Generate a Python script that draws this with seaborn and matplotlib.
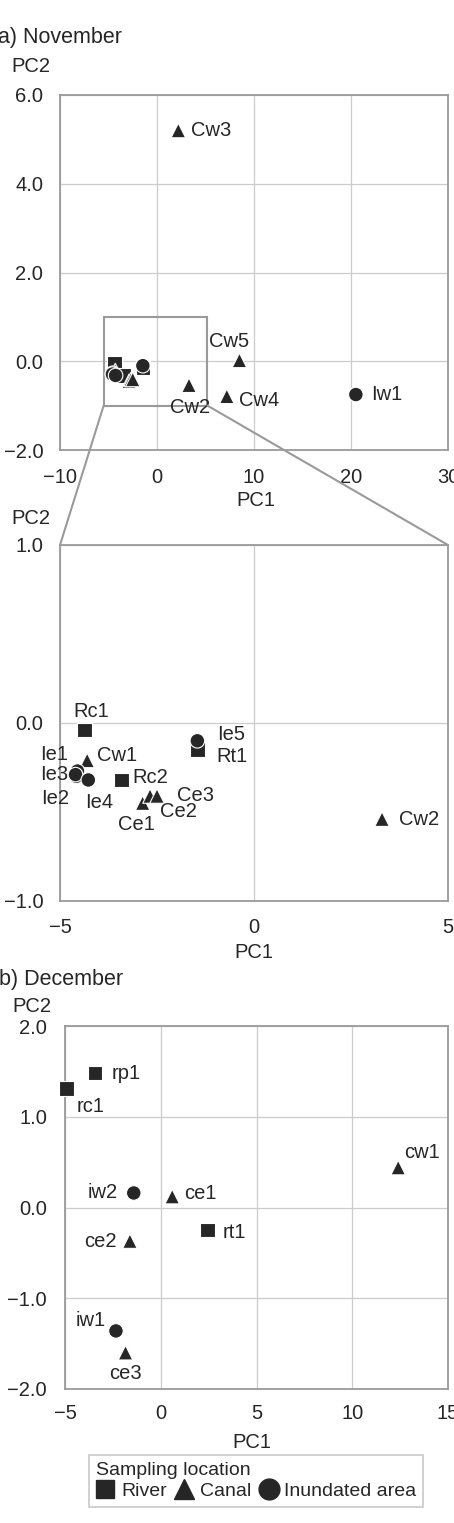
import matplotlib
matplotlib.use("Agg")
import matplotlib.pyplot as plt
import seaborn as sns
import pandas as pd
from matplotlib.patches import Rectangle, ConnectionPatch
from matplotlib.lines import Line2D
from matplotlib.ticker import FuncFormatter

# ---------------- data ----------------
nov_sites = ["Rc1", "Rc2", "Rt1", "Cw1", "Cw2", "Cw3", "Cw4", "Cw5", "Ce1", "Ce2", "Ce3",
             "Ie1", "Ie2", "Ie3", "Ie4", "Ie5", "Iw1"]
nov_type = ["River", "River", "River", "Canal", "Canal", "Canal", "Canal", "Canal", "Canal", "Canal", "Canal",
            "Inundated area", "Inundated area", "Inundated area", "Inundated area", "Inundated area", "Inundated area"]
nov_pc1 = [-4.37, -3.41, -1.46, -4.30, 3.30, 2.20, 7.20, 8.50, -2.87, -2.68, -2.50,
           -4.55, -4.58, -4.60, -4.27, -1.46, 20.5]
nov_pc2 = [-0.04, -0.32, -0.15, -0.21, -0.54, 5.20, -0.79, 0.02, -0.45, -0.41, -0.41,
           -0.27, -0.30, -0.29, -0.32, -0.10, -0.75]

dec_sites = ["rc1", "rp1", "rt1", "cw1", "ce1", "ce2", "ce3", "iw1", "iw2"]
dec_type = ["River", "River", "River", "Canal", "Canal", "Canal", "Canal", "Inundated area", "Inundated area"]
dec_pc1 = [-4.91, -3.44, 2.45, 12.4, 0.60, -1.61, -1.84, -2.34, -1.41]
dec_pc2 = [1.31, 1.48, -0.25, 0.44, 0.12, -0.37, -1.60, -1.36, 0.16]

categories = ["River", "Canal", "Inundated area"]
legend_title = "Sampling location"

# ---------------- styling / layout (not data) ----------------
W, H = 454, 1523
MARKERS = {"River": "s", "Canal": "^", "Inundated area": "o"}
INK = "#262626"
GRID = "#cccccc"
SPINE = "#9a9a9a"
FS = 14.5

# label offsets in pixels (dx, dy up) and horizontal alignment
top_labels = {"Cw3": (13, 0, "left"), "Cw5": (-10, 19, "center"), "Cw4": (12, -4, "left"),
              "Cw2": (1, -22, "center"), "Iw1": (15, 0, "left")}
zoom_labels = {"Rc1": (7, 19, "center"), "Cw1": (10, 5, "left"), "Ie1": (-9, 17, "right"),
               "Ie3": (-7, 0, "right"), "Ie2": (-7, -22, "right"), "Ie4": (11, -23, "center"),
               "Rc2": (11, 2, "left"), "Ce1": (-6, -21, "center"), "Ce2": (10, -16, "left"),
               "Ce3": (20, 0, "left"), "Ie5": (20, 6, "left"), "Rt1": (19, -7, "left"),
               "Cw2": (17, 0, "left")}
dec_labels = {"rp1": (17, 0, "left"), "rc1": (10, -18, "left"), "cw1": (6, 15, "left"),
              "iw2": (-16, 0, "right"), "ce1": (12, 3, "left"), "rt1": (15, -2, "left"),
              "ce2": (-13, 0, "right"), "iw1": (-10, 10, "right"), "ce3": (0, -21, "center")}

sns.set_theme(style="white")
plt.rcParams["font.family"] = ["Liberation Sans", "DejaVu Sans"]
plt.rcParams["axes.unicode_minus"] = True

fig = plt.figure(figsize=(W / 100, H / 100), dpi=100)


def rect(l, t, r, b):
    return [l / W, 1 - b / H, (r - l) / W, (b - t) / H]


def ftext(x, y, s, fs=FS, **kw):
    fig.text(x / W, 1 - y / H, s, fontsize=fs, color=INK, va="center", **kw)


ax_a = fig.add_axes(rect(60, 95, 448, 450))
ax_z = fig.add_axes(rect(60, 545, 448, 901))
ax_b = fig.add_axes(rect(65, 1026, 448, 1389))

nov = pd.DataFrame({"site": nov_sites, "type": nov_type, "PC1": nov_pc1, "PC2": nov_pc2})
dec = pd.DataFrame({"site": dec_sites, "type": dec_type, "PC1": dec_pc1, "PC2": dec_pc2})


def style_axes(ax, xlim, ylim, xticks, yticks, xpad, ypad):
    ax.set_xlim(*xlim)
    ax.set_ylim(*ylim)
    ax.set_xticks(xticks)
    ax.set_yticks(yticks)
    ax.xaxis.set_major_formatter(FuncFormatter(lambda v, p: f"{v:.0f}".replace("-", "\u2212")))
    ax.yaxis.set_major_formatter(FuncFormatter(lambda v, p: f"{v:.1f}".replace("-", "\u2212")))
    ax.grid(True, color=GRID, lw=0.9)
    ax.set_axisbelow(True)
    for sp in ax.spines.values():
        sp.set_color(SPINE)
        sp.set_linewidth(1.3)
    ax.tick_params(axis="x", length=0, pad=xpad, labelsize=FS, labelcolor=INK)
    ax.tick_params(axis="y", length=0, pad=ypad, labelsize=FS, labelcolor=INK)
    ax.set_xlabel("")
    ax.set_ylabel("")


def draw_points(ax, df, labels):
    sns.scatterplot(data=df, x="PC1", y="PC2", style="type", markers=MARKERS,
                    style_order=categories, color=INK, s=110, edgecolor="white",
                    linewidth=0.8, legend=False, ax=ax, zorder=3, clip_on=False)
    for site, (dx, dy, ha) in labels.items():
        row = df[df["site"] == site].iloc[0]
        ax.annotate(site, (row["PC1"], row["PC2"]), xytext=(dx * 0.72, dy * 0.72),
                    textcoords="offset points", ha=ha, va="center", fontsize=FS,
                    color=INK, zorder=4, annotation_clip=False)


# panel a (overview)
draw_points(ax_a, nov, top_labels)
style_axes(ax_a, (-10, 30), (-2, 6), [-10, 0, 10, 20, 30], [-2, 0, 2, 4, 6], 13, 12)
ax_a.add_patch(Rectangle((-5.5, -1), 10.7, 2, fill=False, edgecolor=SPINE, lw=1.5, zorder=2))

# zoom panel
draw_points(ax_z, nov, zoom_labels)
style_axes(ax_z, (-5, 5), (-1, 1), [-5, 0, 5], [-1, 0, 1], 12, 12)

# connector lines
for xa, xb in [(-5.5, -5), (5.2, 5)]:
    con = ConnectionPatch(xyA=(xa, -1), coordsA=ax_a.transData, xyB=(xb, 1), coordsB=ax_z.transData,
                          color=SPINE, lw=1.5)
    fig.add_artist(con)

# panel b (December)
draw_points(ax_b, dec, dec_labels)
style_axes(ax_b, (-5, 15), (-2, 2), [-5, 0, 5, 10, 15], [-2, -1, 0, 1, 2], 11, 13)

# texts
ftext(-2, 37, "a) November", fs=15.5, ha="left")
ftext(31, 67, "PC2", ha="center")
ftext(256, 500, "PC1", ha="center")
ftext(31, 518, "PC2", ha="center")
ftext(254, 952, "PC1", ha="center")
ftext(-1, 980, "b) December", fs=15.5, ha="left")
ftext(32, 1007, "PC2", ha="center")
ftext(252, 1442, "PC1", ha="center")

# legend
handles = [Line2D([], [], marker=MARKERS[c], color=INK, linestyle="none",
                  markersize=15 if c != "River" else 13) for c in categories]
leg = fig.legend(handles, categories, title=legend_title, ncol=3, loc="center",
                 bbox_to_anchor=(256 / W, 1 - 1481 / H), fontsize=14, title_fontsize=14,
                 frameon=True, fancybox=False, edgecolor="#bbbbbb", handletextpad=0.3,
                 columnspacing=0.4, handlelength=1.0, borderpad=0.35, labelspacing=0.15,
                 alignment="left", borderaxespad=0)
leg.get_frame().set_linewidth(1.2)
for t in leg.get_texts():
    t.set_color(INK)
leg.get_title().set_color(INK)

fig.savefig("out.png", dpi=100)
